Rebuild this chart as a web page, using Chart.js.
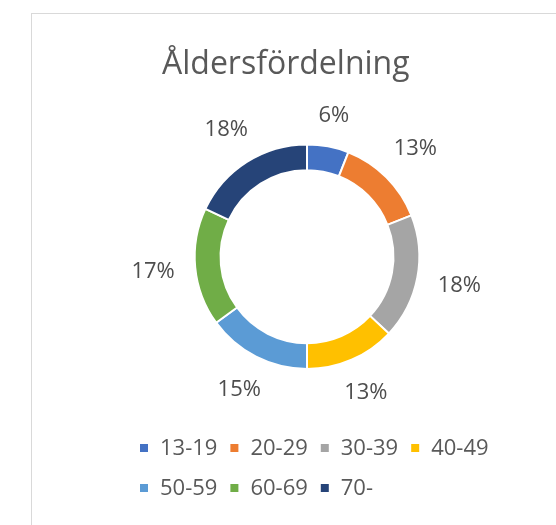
<!DOCTYPE html>
<html>
<head>
<meta charset="utf-8">
<script src="https://cdn.jsdelivr.net/npm/chart.js@4.4.1/dist/chart.umd.min.js"></script>
<style>
  body { margin: 0; background: #fff; }
  #box {
    position: absolute; left: 31px; top: 13px;
    width: 524px; height: 511px;
    border: 1px solid #d9d9d9; border-right: none; border-bottom: none;
    background: #fff;
  }
  canvas { display: block; }
</style>
</head>
<body>
<div id="box"><canvas id="pie" width="524" height="511"></canvas></div>
<script>
var chartTitle = 'Åldersfördelning';
var ageGroups = ['13-19', '20-29', '30-39', '40-49', '50-59', '60-69', '70-'];
var shares = [6, 13, 18, 13, 15, 17, 18];
var sliceColors = ['#4472C4', '#ED7D31', '#A5A5A5', '#FFC000', '#5B9BD5', '#70AD47', '#264478'];

var textColor = '#595959';
var fontFamily = '"Open Sans", sans-serif';

// percent labels outside the ring + legend in two rows
var extras = {
  id: 'extras',
  afterDraw: function(chart) {
    var ctx = chart.ctx;
    var meta = chart.getDatasetMeta(0);
    ctx.save();
    ctx.fillStyle = '#4d4d4d';
    ctx.font = '22px ' + fontFamily;
    ctx.textAlign = 'center';
    ctx.textBaseline = 'middle';

    meta.data.forEach(function(arc, i) {
      var p = arc.getProps(['x', 'y', 'startAngle', 'endAngle', 'outerRadius'], true);
      var mid = (p.startAngle + p.endAngle) / 2;
      var txt = shares[i] + '%';
      var w = ctx.measureText(txt).width;
      var h = 16;
      var r = p.outerRadius + 20 + Math.abs(Math.cos(mid)) * w / 2 + Math.abs(Math.sin(mid)) * h / 2;
      ctx.fillText(txt, p.x + Math.cos(mid) * r, p.y + Math.sin(mid) * r);
    });

    // legend
    ctx.textAlign = 'left';
    ctx.font = '22px ' + fontFamily;
    var x0 = 108, y = 434, rowGap = 40, maxW = 380;
    var x = x0;
    for (var i = 0; i < ageGroups.length; i++) {
      var tw = ctx.measureText(ageGroups[i]).width;
      var itemW = 8 + 12 + tw;
      if (x > x0 && x - x0 + itemW > maxW) {
        x = x0;
        y += rowGap;
      }
      ctx.fillStyle = sliceColors[i];
      ctx.fillRect(x, y - 4, 8, 8);
      ctx.fillStyle = textColor;
      ctx.fillText(ageGroups[i], x + 20, y + 1);
      x += itemW + 13;
    }
    ctx.restore();
  }
};

var myDonut = new Chart(document.getElementById('pie'), {
  type: 'doughnut',
  data: {
    labels: ageGroups,
    datasets: [{
      data: shares,
      backgroundColor: sliceColors,
      borderColor: '#ffffff',
      borderWidth: 2,
      hoverOffset: 0
    }]
  },
  options: {
    responsive: false,
    animation: false,
    cutout: '77%',
    layout: {
      padding: { left: 130, right: 104, top: 0, bottom: 155 }
    },
    plugins: {
      legend: { display: false },
      tooltip: { enabled: false },
      title: {
        display: true,
        text: chartTitle,
        align: 'start',
        color: textColor,
        font: { family: fontFamily, size: 32, weight: 'normal', lineHeight: 1.2 },
        padding: { top: 32, bottom: 59 }
      }
    }
  },
  plugins: [extras]
});
</script>
</body>
</html>
